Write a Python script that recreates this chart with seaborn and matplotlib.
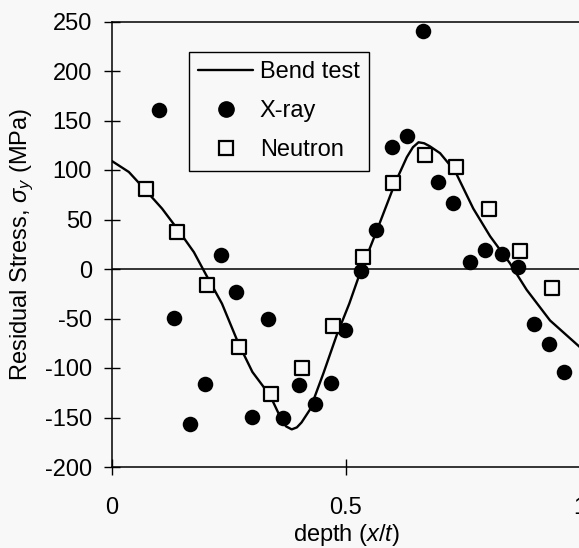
import numpy as np
import matplotlib
matplotlib.use("Agg")
import matplotlib.pyplot as plt
import pandas as pd
import seaborn as sns
from matplotlib.lines import Line2D

# Bend test curve
bend_x = [0.0, 0.036, 0.071, 0.107, 0.142, 0.175, 0.20, 0.235, 0.27, 0.30,
          0.338, 0.36, 0.372, 0.384, 0.395, 0.405, 0.423, 0.452, 0.48, 0.507,
          0.53, 0.566, 0.605, 0.63, 0.643, 0.655, 0.667, 0.679, 0.701, 0.722,
          0.736, 0.772, 0.808, 0.85, 0.886, 0.936, 1.0]
bend_y = [109, 98, 80, 61, 39, 17, -5, -35, -75, -104,
          -128, -150, -159, -162, -160, -155, -142, -105, -67, -35,
          -4, 39, 87, 113, 123, 128, 127, 124, 117, 105,
          96, 61, 33, 6, -21, -52, -79]

# X-ray measurements
xray_x = [0.100, 0.133, 0.167, 0.199, 0.232, 0.266, 0.300, 0.333, 0.366,
          0.399, 0.434, 0.468, 0.498, 0.531, 0.564, 0.598, 0.631, 0.664,
          0.697, 0.729, 0.765, 0.798, 0.833, 0.867, 0.902, 0.934, 0.966]
xray_y = [161, -49, -157, -116, 14, -23, -149, -51, -150,
          -117, -136, -115, -62, -2, 39, 123, 134, 240,
          88, 67, 7, 19, 15, 2, -56, -76, -104]

# Neutron measurements
neutron_x = [0.072, 0.138, 0.204, 0.271, 0.339, 0.405, 0.472, 0.537, 0.601,
             0.669, 0.736, 0.806, 0.872, 0.940]
neutron_y = [81, 37, -16, -79, -126, -100, -58, 12, 87,
             115, 103, 61, 18, -19]

y_ticks = [-200, -150, -100, -50, 0, 50, 100, 150, 200, 250]
x_ticks = [0, 0.5, 1]
x_ticklabels = ["0", "0.5", "1"]

BG = "#f8f8f8"
FS = 17

sns.set_style("ticks")
plt.rcParams["font.family"] = ["Liberation Sans", "DejaVu Sans"]
plt.rcParams["mathtext.fontset"] = "custom"
plt.rcParams["mathtext.rm"] = "Liberation Sans"
plt.rcParams["mathtext.it"] = "Liberation Sans:italic"
plt.rcParams["text.color"] = "black"
plt.rcParams["axes.labelcolor"] = "black"

fig = plt.figure(figsize=(5.79, 5.48), dpi=100, facecolor=BG)
ax = fig.add_axes([112 / 579, 81 / 548, 468 / 579, 445.5 / 548])
ax.set_facecolor(BG)

df_bend = pd.DataFrame({"x": bend_x, "y": bend_y})
df_xray = pd.DataFrame({"x": xray_x, "y": xray_y})
df_neut = pd.DataFrame({"x": neutron_x, "y": neutron_y})

ax.axhline(0, color="black", lw=1.1, zorder=1)
sns.lineplot(data=df_bend, x="x", y="y", ax=ax, color="black", lw=1.7,
             sort=False, zorder=2)
sns.scatterplot(data=df_xray, x="x", y="y", ax=ax, marker="o", s=125,
                color="black", edgecolor="black", linewidth=0, zorder=3)
sns.scatterplot(data=df_neut, x="x", y="y", ax=ax, marker="s", s=100,
                facecolor=BG, edgecolor="black", linewidth=1.6, zorder=4)

ax.set_xlim(0, 1)
ax.set_ylim(-200, 250)
ax.set_yticks(y_ticks)
ax.set_yticklabels([str(v) for v in y_ticks])
ax.set_xticks(x_ticks)
ax.set_xticklabels(x_ticklabels)
ax.tick_params(axis="both", direction="inout", length=11, width=1.0,
               labelsize=FS, colors="black", labelcolor="black")
ax.tick_params(axis="y", pad=9)
ax.tick_params(axis="x", pad=16)

for side in ["left", "bottom", "top"]:
    ax.spines[side].set_linewidth(1.1)
    ax.spines[side].set_color("black")
ax.spines["right"].set_visible(False)

ax.set_xlabel("depth ($x/t$)", fontsize=FS, labelpad=2, color="black")
ax.set_ylabel(r"Residual Stress, $\sigma_y$ (MPa)", fontsize=FS, labelpad=6,
              color="black")

handles = [
    Line2D([], [], color="black", lw=1.7),
    Line2D([], [], color="black", marker="o", ls="none", markersize=11),
    Line2D([], [], color="black", marker="s", ls="none", markersize=9.5,
           markerfacecolor=BG, markeredgewidth=1.6),
]
leg = ax.legend(handles, ["Bend test", "X-ray", "Neutron"], loc="upper left",
                bbox_to_anchor=(0.1645, 0.9315), borderaxespad=0,
                fontsize=FS, frameon=True, fancybox=False, framealpha=1,
                edgecolor="black", facecolor=BG, handlelength=2.3,
                handletextpad=0.3, labelspacing=0.72, borderpad=0.4)
leg.get_frame().set_linewidth(1.0)
for t in leg.get_texts():
    t.set_color("black")

fig.savefig("out.png", dpi=100, facecolor=BG)
